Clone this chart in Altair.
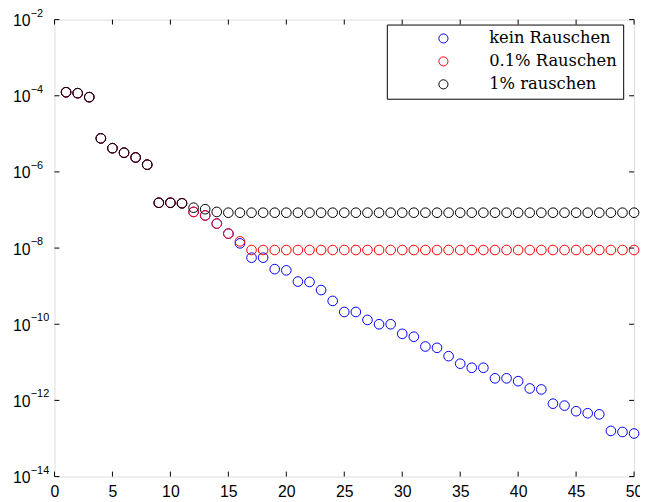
import altair as alt
import pandas as pd

x_vals = list(range(1, 51))

kein = [1.24e-4, 1.17e-4, 9.2e-5, 7.6e-6, 4.2e-6, 3.2e-6, 2.4e-6, 1.55e-6, 1.55e-7, 1.55e-7,
        1.5e-7, 8.9e-8, 7.2e-8, 4.4e-8, 2.4e-8, 1.33e-8, 5.6e-9, 5.6e-9, 2.8e-9, 2.6e-9,
        1.32e-9, 1.29e-9, 7.9e-10, 4.1e-10, 2.1e-10, 2.1e-10, 1.3e-10, 1.0e-10, 1.0e-10, 5.6e-11,
        4.7e-11, 2.6e-11, 2.4e-11, 1.45e-11, 9.2e-12, 7.2e-12, 7.2e-12, 3.8e-12, 3.8e-12, 3.2e-12,
        2.06e-12, 1.94e-12, 8.2e-13, 7.3e-13, 5.2e-13, 4.6e-13, 4.3e-13, 1.58e-13, 1.48e-13, 1.35e-13]

r01 = [1.24e-4, 1.17e-4, 9.2e-5, 7.6e-6, 4.2e-6, 3.2e-6, 2.4e-6, 1.55e-6, 1.55e-7, 1.55e-7,
       1.5e-7, 8.9e-8, 7.2e-8, 4.4e-8, 2.4e-8, 1.5e-8, 8.9e-9, 8.9e-9, 8.9e-9, 8.9e-9,
       8.9e-9, 8.9e-9, 8.9e-9, 8.9e-9, 8.9e-9, 8.9e-9, 8.9e-9, 8.9e-9, 8.9e-9, 8.9e-9,
       8.9e-9, 8.9e-9, 8.9e-9, 8.9e-9, 8.9e-9, 8.9e-9, 8.9e-9, 8.9e-9, 8.9e-9, 8.9e-9,
       8.9e-9, 8.9e-9, 8.9e-9, 8.9e-9, 8.9e-9, 8.9e-9, 8.9e-9, 8.9e-9, 8.9e-9, 8.9e-9]

r1 = [1.24e-4, 1.17e-4, 9.2e-5, 7.6e-6, 4.2e-6, 3.2e-6, 2.4e-6, 1.55e-6, 1.55e-7, 1.55e-7,
      1.5e-7, 1.15e-7, 1.05e-7, 8.9e-8, 8.5e-8, 8.5e-8, 8.5e-8, 8.5e-8, 8.5e-8, 8.5e-8,
      8.5e-8, 8.5e-8, 8.5e-8, 8.5e-8, 8.5e-8, 8.5e-8, 8.5e-8, 8.5e-8, 8.5e-8, 8.5e-8,
      8.5e-8, 8.5e-8, 8.5e-8, 8.5e-8, 8.5e-8, 8.5e-8, 8.5e-8, 8.5e-8, 8.5e-8, 8.5e-8,
      8.5e-8, 8.5e-8, 8.5e-8, 8.5e-8, 8.5e-8, 8.5e-8, 8.5e-8, 8.5e-8, 8.5e-8, 8.5e-8]

series_names = ["kein Rauschen", "0.1% Rauschen", "1% rauschen"]
series_colors = ["#0000ff", "#ff0000", "#000000"]

x_ticks = [0, 5, 10, 15, 20, 25, 30, 35, 40, 45, 50]
y_ticks = [1e-2, 1e-4, 1e-6, 1e-8, 1e-10, 1e-12, 1e-14]
y_label_base = ["10", "10", "10", "10", "10", "10", "10"]
y_label_exp = ["\u22122", "\u22124", "\u22126", "\u22128", "\u221210", "\u221212", "\u221214"]

W, H = 586, 462

rows = []
idx = 0
for name, vals in zip(series_names, [kein, r01, r1]):
    for x, v in zip(x_vals, vals):
        rows.append({"x": x, "y": v, "series": name, "idx": idx})
        idx += 1
df = pd.DataFrame(rows)

xs = alt.Scale(domain=[0, 50], nice=False, zero=False)
ys = alt.Scale(type="log", domain=[1e-14, 1e-2], nice=False)

points = alt.Chart(df).mark_point(
    shape="circle", filled=False, size=95, strokeWidth=1, opacity=1
).encode(
    x=alt.X("x:Q", scale=xs, axis=alt.Axis(
        values=x_ticks, title=None, grid=False, domain=False, ticks=False,
        labelFont="Liberation Sans", labelFontSize=16, labelColor="black",
        labelPadding=7, labelFlush=False, labelOverlap=False)),
    y=alt.Y("y:Q", scale=ys, axis=None),
    color=alt.Color("series:N", scale=alt.Scale(domain=series_names, range=series_colors),
                    legend=alt.Legend(
                        title=None, orient="none", legendX=336, legendY=5,
                        direction="vertical", fillColor="white", strokeColor="black",
                        padding=5.8, symbolOffset=43.2, labelOffset=38,
                        labelFont="DejaVu Serif", labelFontSize=16.5, labelColor="black",
                        labelLimit=300, symbolSize=85, symbolStrokeWidth=1,
                        symbolType="circle", rowPadding=6.2)),
    order=alt.Order("idx:Q"),
)

xt_df = pd.DataFrame({"x": x_ticks})
yt_df = pd.DataFrame({"y": y_ticks, "base": y_label_base, "exp": y_label_exp})

xt_bottom = alt.Chart(xt_df).mark_rule(color="black", strokeWidth=1).encode(
    x=alt.X("x:Q", scale=xs), y=alt.value(H), y2=alt.value(H - 5))
xt_top = alt.Chart(xt_df).mark_rule(color="black", strokeWidth=1).encode(
    x=alt.X("x:Q", scale=xs), y=alt.value(0), y2=alt.value(5))
yt_left = alt.Chart(yt_df).mark_rule(color="black", strokeWidth=1).encode(
    y=alt.Y("y:Q", scale=ys, axis=None), x=alt.value(0), x2=alt.value(5))
yt_right = alt.Chart(yt_df).mark_rule(color="black", strokeWidth=1).encode(
    y=alt.Y("y:Q", scale=ys, axis=None), x=alt.value(W), x2=alt.value(W - 5))

ylab_base = alt.Chart(yt_df).mark_text(
    align="left", baseline="middle", font="Liberation Sans", fontSize=16,
    color="black", dy=1.5
).encode(y=alt.Y("y:Q", scale=ys, axis=None), x=alt.value(-42), text="base:N")
ylab_exp = alt.Chart(yt_df).mark_text(
    align="left", baseline="middle", font="Liberation Sans", fontSize=11,
    color="black", dy=-6
).encode(y=alt.Y("y:Q", scale=ys, axis=None), x=alt.value(-24), text="exp:N")

chart = alt.layer(points, xt_bottom, xt_top, yt_left, yt_right, ylab_base, ylab_exp).properties(
    width=W, height=H,
    autosize=alt.AutoSizeParams(type="none"),
    padding={"left": 47, "top": 9, "right": 6, "bottom": 24},
).configure_view(stroke="black", strokeWidth=1).configure(background="white")

chart.save("out.html", embed_options={"renderer": "svg", "actions": False})
